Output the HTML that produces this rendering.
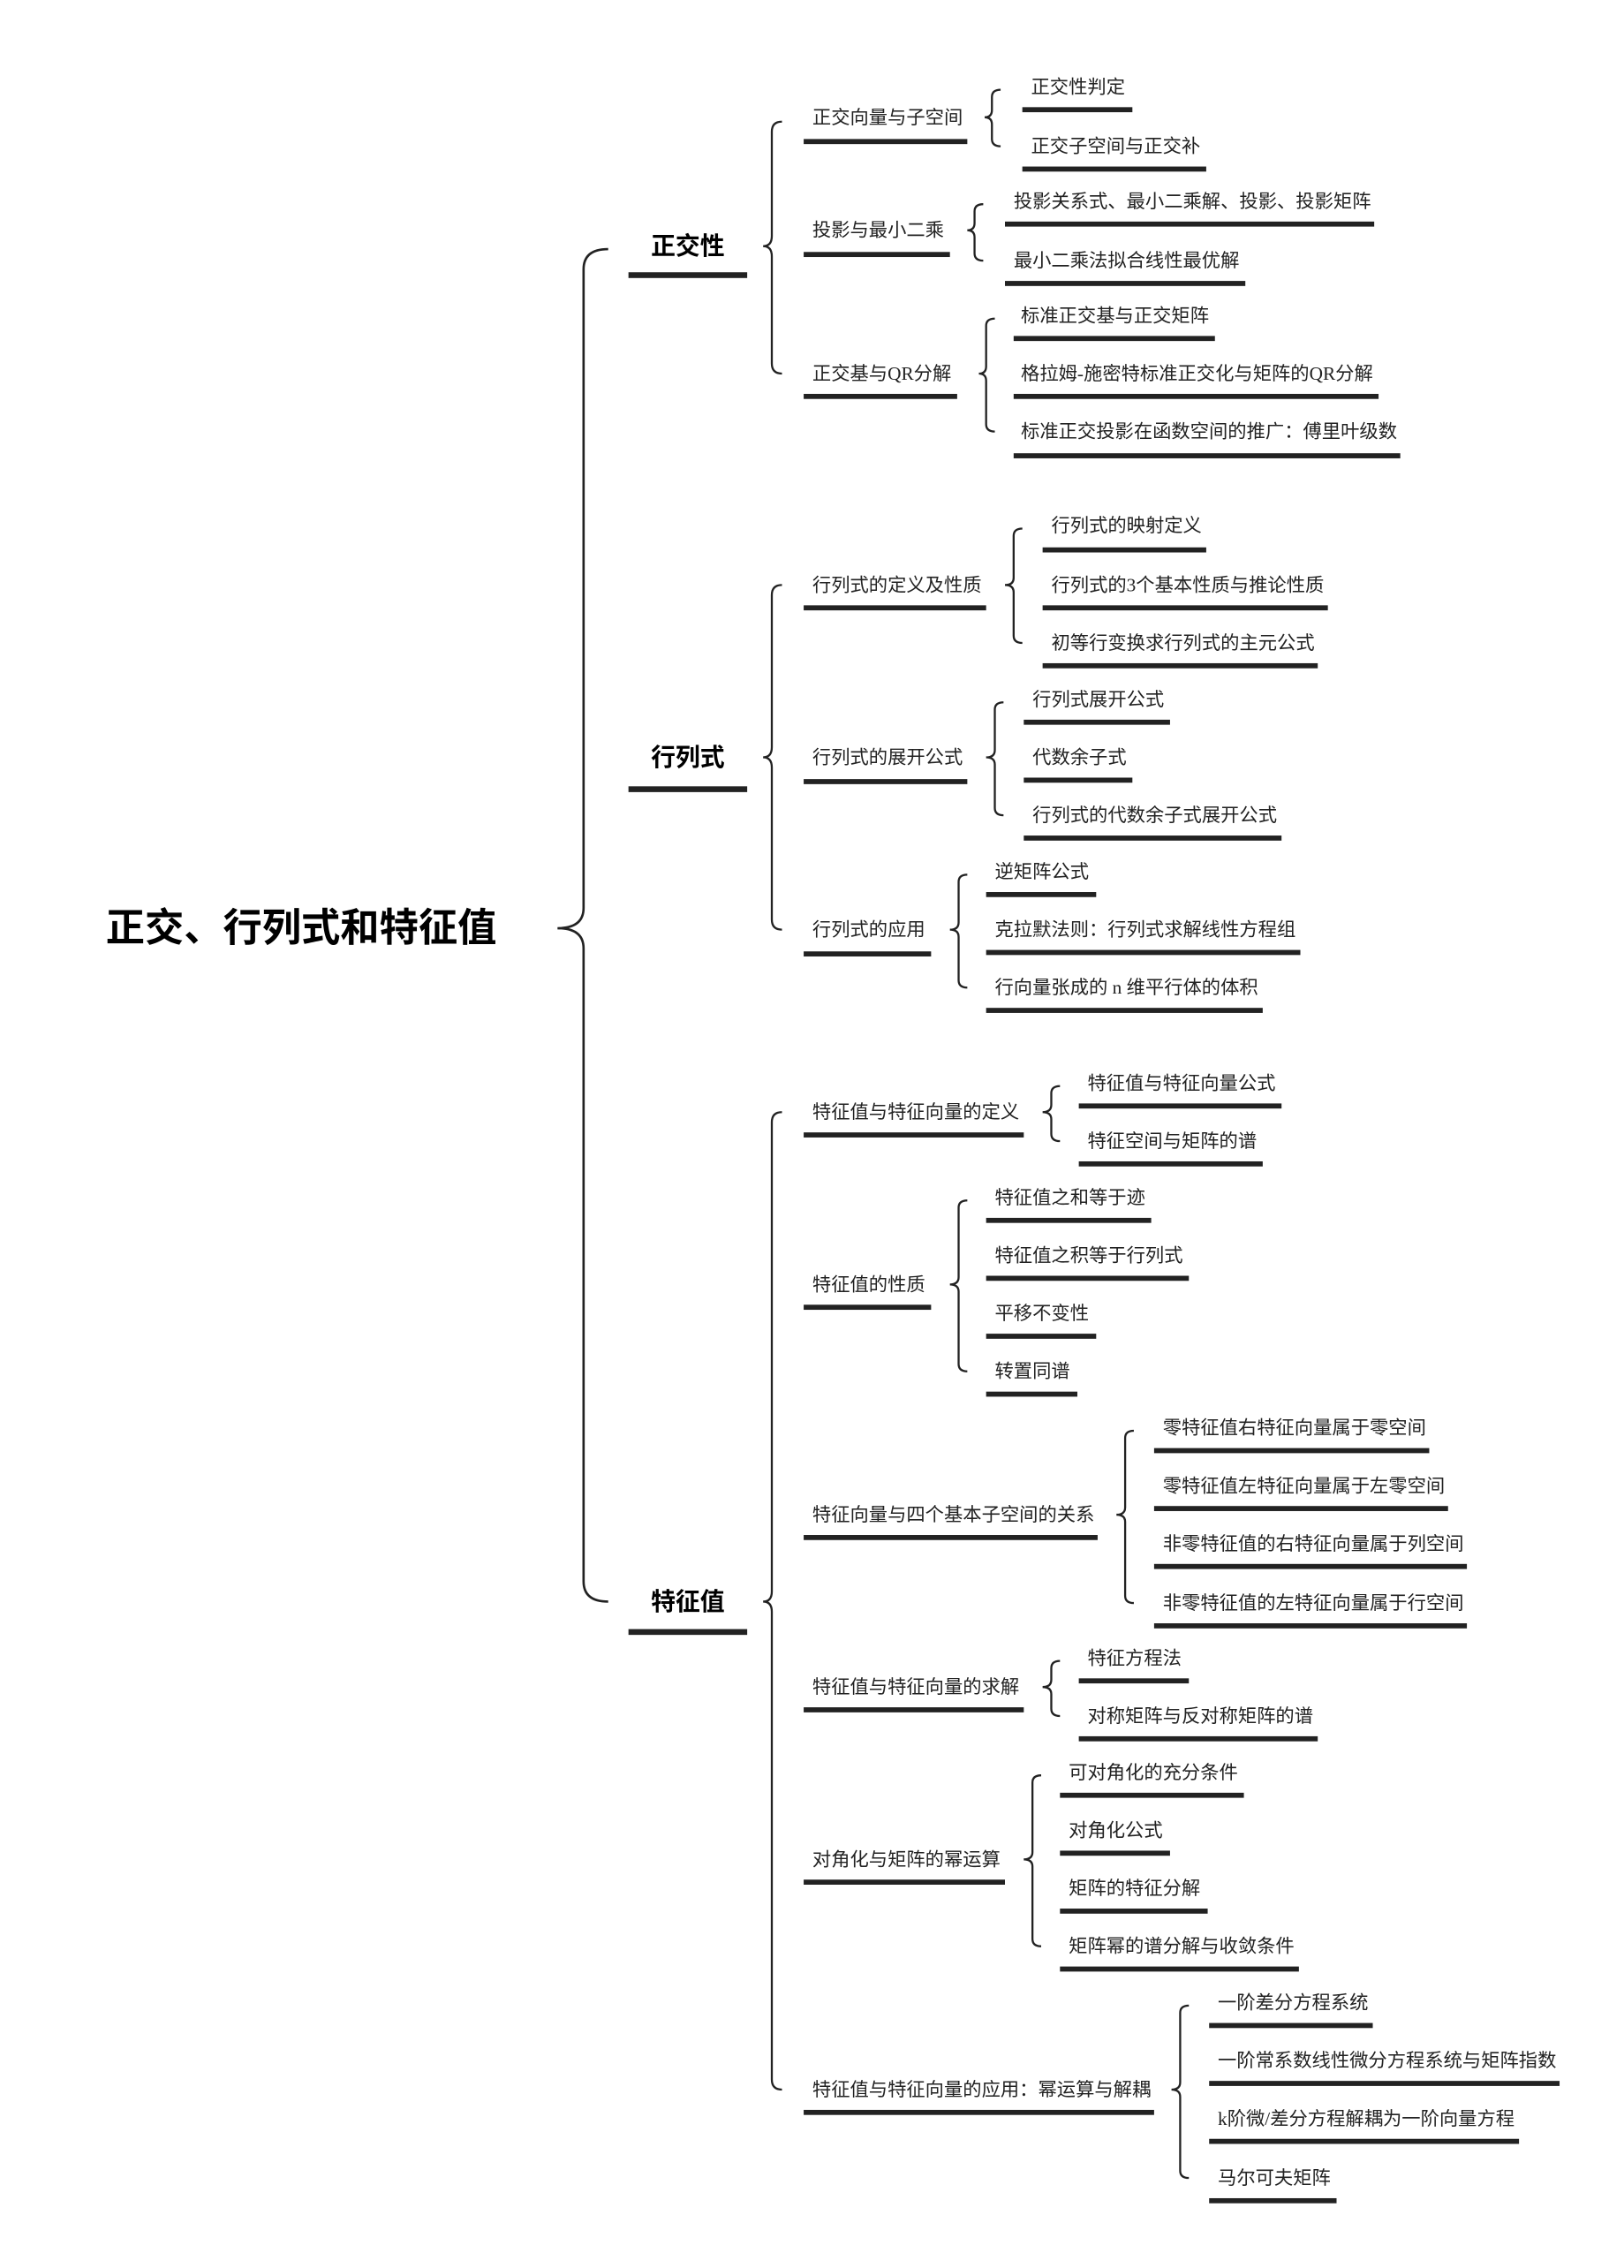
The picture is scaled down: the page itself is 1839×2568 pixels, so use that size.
<!DOCTYPE html>
<html><head><meta charset="utf-8"><style>
html,body{margin:0;padding:0;background:#fff;}
svg{display:block;}
text{font-family:"Liberation Serif","Noto Sans CJK SC",sans-serif;fill:#222;dominant-baseline:central;}
.t{font-size:13px;}
.l1{font-size:17px;font-weight:bold;font-family:"Liberation Sans","Noto Sans CJK SC",sans-serif;fill:#000;}
.root{font-size:27px;font-weight:bold;font-family:"Liberation Sans","Noto Sans CJK SC",sans-serif;fill:#000;}
rect{fill:#222;}
path{fill:none;stroke:#222;stroke-width:1.4;}
</style></head><body>
<svg width="1839" height="2568" viewBox="0 0 1121.5 1566.2" preserveAspectRatio="none" xmlns="http://www.w3.org/2000/svg">
<text class="root" x="73" y="641">正交、行列式和特征值</text>
<path d="M420,172 Q403,172 403,186 L403,627 Q403,641 385,641 Q403,641 403,655 L403,1092 Q403,1106 420,1106" style="stroke-width:1.6"/>

<text class="l1" x="475" y="170" text-anchor="middle">正交性</text><rect x="434" y="188" width="82" height="4"/>
<text class="l1" x="475" y="523" text-anchor="middle">行列式</text><rect x="434" y="543" width="82" height="4"/>
<text class="l1" x="475" y="1106" text-anchor="middle">特征值</text><rect x="434" y="1125" width="82" height="4"/>

<path d="M540,84 Q533,84 533,91 L533,163 Q533,170 527,170 Q533,170 533,177 L533,251 Q533,258 540,258"/>
<path d="M540,404 Q533,404 533,411 L533,516 Q533,523 527,523 Q533,523 533,530 L533,635 Q533,642 540,642"/>
<path d="M540,768 Q533,768 533,775 L533,1099 Q533,1106 527,1106 Q533,1106 533,1113 L533,1436 Q533,1443 540,1443"/>

<text class="t" x="561" y="81">正交向量与子空间</text><rect x="555" y="96" width="113" height="3.5"/>
<text class="t" x="561" y="159">投影与最小二乘</text><rect x="555" y="174" width="101" height="3.5"/>
<text class="t" x="561" y="258">正交基与QR分解</text><rect x="555" y="272" width="106" height="3.5"/>
<text class="t" x="561" y="404">行列式的定义及性质</text><rect x="555" y="418" width="126" height="3.5"/>
<text class="t" x="561" y="523">行列式的展开公式</text><rect x="555" y="538" width="113" height="3.5"/>
<text class="t" x="561" y="642">行列式的应用</text><rect x="555" y="657" width="88" height="3.5"/>
<text class="t" x="561" y="768">特征值与特征向量的定义</text><rect x="555" y="782" width="152" height="3.5"/>
<text class="t" x="561" y="887">特征值的性质</text><rect x="555" y="901" width="88" height="3.5"/>
<text class="t" x="561" y="1046">特征向量与四个基本子空间的关系</text><rect x="555" y="1060" width="203" height="3.5"/>
<text class="t" x="561" y="1165">特征值与特征向量的求解</text><rect x="555" y="1179" width="152" height="3.5"/>
<text class="t" x="561" y="1284">对角化与矩阵的幂运算</text><rect x="555" y="1298" width="139" height="3.5"/>
<text class="t" x="561" y="1443">特征值与特征向量的应用：幂运算与解耦</text><rect x="555" y="1457" width="242" height="3.5"/>

<path d="M691,62 Q685,62 685,67 L685,76 Q685,81 680,81 Q685,81 685,86 L685,96 Q685,101 691,101"/>
<path d="M679,141 Q673,141 673,146 L673,154 Q673,159 668,159 Q673,159 673,164 L673,175 Q673,180 679,180"/>
<path d="M687,220 Q681,220 681,225 L681,253 Q681,258 676,258 Q681,258 681,263 L681,293 Q681,298 687,298"/>
<path d="M706,365 Q700,365 700,370 L700,399 Q700,404 694,404 Q700,404 700,409 L700,439 Q700,444 706,444"/>
<path d="M693,485 Q687,485 687,490 L687,518 Q687,523 681,523 Q687,523 687,528 L687,558 Q687,563 693,563"/>
<path d="M668,604 Q662,604 662,609 L662,637 Q662,642 656,642 Q662,642 662,647 L662,677 Q662,682 668,682"/>
<path d="M732,750 Q726,750 726,755 L726,763 Q726,768 720,768 Q726,768 726,773 L726,783 Q726,788 732,788"/>
<path d="M668,829 Q662,829 662,834 L662,882 Q662,887 656,887 Q662,887 662,892 L662,942 Q662,947 668,947"/>
<path d="M783,988 Q777,988 777,993 L777,1041 Q777,1046 771,1046 Q777,1046 777,1051 L777,1102 Q777,1107 783,1107"/>
<path d="M732,1147 Q726,1147 726,1152 L726,1160 Q726,1165 720,1165 Q726,1165 726,1170 L726,1180 Q726,1185 732,1185"/>
<path d="M719,1226 Q713,1226 713,1231 L713,1279 Q713,1284 707,1284 Q713,1284 713,1289 L713,1339 Q713,1344 719,1344"/>
<path d="M821,1385 Q815,1385 815,1390 L815,1438 Q815,1443 809,1443 Q815,1443 815,1448 L815,1499 Q815,1504 821,1504"/>

<text class="t" x="712" y="60">正交性判定</text><rect x="706" y="74" width="76" height="3.5"/>
<text class="t" x="712" y="101">正交子空间与正交补</text><rect x="706" y="115" width="127" height="3.5"/>
<text class="t" x="700" y="139">投影关系式、最小二乘解、投影、投影矩阵</text><rect x="694" y="153" width="255" height="3.5"/>
<text class="t" x="700" y="180">最小二乘法拟合线性最优解</text><rect x="694" y="194" width="166" height="3.5"/>
<text class="t" x="705" y="218">标准正交基与正交矩阵</text><rect x="700" y="232" width="139" height="3.5"/>
<text class="t" x="705" y="258">格拉姆-施密特标准正交化与矩阵的QR分解</text><rect x="700" y="272" width="252" height="3.5"/>
<text class="t" x="705" y="298">标准正交投影在函数空间的推广：傅里叶级数</text><rect x="700" y="313" width="267" height="3.5"/>

<text class="t" x="726" y="363">行列式的映射定义</text><rect x="720" y="378" width="113" height="3.5"/>
<text class="t" x="726" y="404">行列式的3个基本性质与推论性质</text><rect x="720" y="418" width="197" height="3.5"/>
<text class="t" x="726" y="444">初等行变换求行列式的主元公式</text><rect x="720" y="458" width="190" height="3.5"/>
<text class="t" x="713" y="483">行列式展开公式</text><rect x="707" y="497" width="101" height="3.5"/>
<text class="t" x="713" y="523">代数余子式</text><rect x="707" y="537" width="75" height="3.5"/>
<text class="t" x="713" y="563">行列式的代数余子式展开公式</text><rect x="707" y="577" width="178" height="3.5"/>
<text class="t" x="687" y="602">逆矩阵公式</text><rect x="681" y="616" width="76" height="3.5"/>
<text class="t" x="687" y="642">克拉默法则：行列式求解线性方程组</text><rect x="681" y="656" width="217" height="3.5"/>
<text class="t" x="687" y="682">行向量张成的 n 维平行体的体积</text><rect x="681" y="696" width="191" height="3.5"/>

<text class="t" x="751" y="748">特征值与特征向量公式</text><rect x="745" y="762" width="140" height="3.5"/>
<text class="t" x="751" y="788">特征空间与矩阵的谱</text><rect x="745" y="802" width="127" height="3.5"/>
<text class="t" x="687" y="827">特征值之和等于迹</text><rect x="681" y="841" width="114" height="3.5"/>
<text class="t" x="687" y="867">特征值之积等于行列式</text><rect x="681" y="881" width="140" height="3.5"/>
<text class="t" x="687" y="907">平移不变性</text><rect x="681" y="921" width="76" height="3.5"/>
<text class="t" x="687" y="947">转置同谱</text><rect x="681" y="961" width="63" height="3.5"/>
<text class="t" x="803" y="986">零特征值右特征向量属于零空间</text><rect x="797" y="1000" width="190" height="3.5"/>
<text class="t" x="803" y="1026">零特征值左特征向量属于左零空间</text><rect x="797" y="1040" width="203" height="3.5"/>
<text class="t" x="803" y="1066">非零特征值的右特征向量属于列空间</text><rect x="797" y="1080" width="216" height="3.5"/>
<text class="t" x="803" y="1107">非零特征值的左特征向量属于行空间</text><rect x="797" y="1121" width="216" height="3.5"/>
<text class="t" x="751" y="1145">特征方程法</text><rect x="745" y="1159" width="76" height="3.5"/>
<text class="t" x="751" y="1185">对称矩阵与反对称矩阵的谱</text><rect x="745" y="1199" width="165" height="3.5"/>
<text class="t" x="738" y="1224">可对角化的充分条件</text><rect x="732" y="1238" width="127" height="3.5"/>
<text class="t" x="738" y="1264">对角化公式</text><rect x="732" y="1278" width="76" height="3.5"/>
<text class="t" x="738" y="1304">矩阵的特征分解</text><rect x="732" y="1318" width="102" height="3.5"/>
<text class="t" x="738" y="1344">矩阵幂的谱分解与收敛条件</text><rect x="732" y="1358" width="165" height="3.5"/>
<text class="t" x="841" y="1383">一阶差分方程系统</text><rect x="835" y="1397" width="113" height="3.5"/>
<text class="t" x="841" y="1423">一阶常系数线性微分方程系统与矩阵指数</text><rect x="835" y="1437" width="242" height="3.5"/>
<text class="t" x="841" y="1463">k阶微/差分方程解耦为一阶向量方程</text><rect x="835" y="1477" width="214" height="3.5"/>
<text class="t" x="841" y="1504">马尔可夫矩阵</text><rect x="835" y="1518" width="88" height="3.5"/>
</svg>
</body></html>
